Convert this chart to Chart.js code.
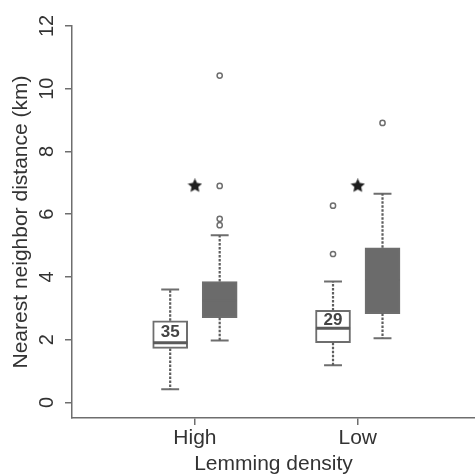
<!DOCTYPE html>
<html>
<head>
<meta charset="utf-8">
<script src="https://cdn.jsdelivr.net/npm/chart.js@4.4.1/dist/chart.umd.min.js"></script>
<style>
  html, body { margin: 0; padding: 0; background: #fff; overflow: hidden; }
  #wrap { width: 475px; height: 475px; position: relative; }
  canvas { display: block; }
</style>
</head>
<body>
<div id="wrap"><canvas id="boxChart"></canvas></div>
<script>
const categories = ['High', 'Low'];
const yTicks = [0, 2, 4, 6, 8, 10, 12];

// one entry per box: High-open, High-filled, Low-open, Low-filled
const boxGroup = [0, 0, 1, 1];
const boxSide = [-1, 1, -1, 1];
const boxFilled = [false, true, false, true];
const whiskerLow = [0.42, 1.97, 1.18, 2.04];
const quart1 = [1.72, 2.70, 1.90, 2.83];
const medians = [1.90, 3.25, 2.36, 3.90];
const quart3 = [2.60, 3.85, 2.93, 4.93];
const whiskerHigh = [3.60, 5.33, 3.85, 6.65];
const outliers = [[], [5.65, 5.85, 6.90, 10.42], [4.73, 6.27], [8.91]];
const sampleSize = ['35', '', '29', ''];
const starValues = [6.9, 6.9];

const GAP = 0.152;   // box offset from category centre
const CAP = 0.055;   // half width of whisker caps
const HALF = 0.105;  // half width of a box
const grey = '#6b6b6b';
const stroke = '#6e6e6e';
const ink = '#333';
const font = '"Liberation Sans", Arial, sans-serif';

const boxX = boxGroup.map((g, i) => g + 1 + boxSide[i] * GAP);

const whiskers = [];
const caps = [];
const openMedians = [];
const filledMedians = [];
const outlierPts = [];
boxX.forEach((x, i) => {
  whiskers.push({x: x, y: quart3[i]}, {x: x, y: whiskerHigh[i]}, {x: x, y: null},
                {x: x, y: quart1[i]}, {x: x, y: whiskerLow[i]}, {x: x, y: null});
  caps.push({x: x - CAP, y: whiskerHigh[i]}, {x: x + CAP, y: whiskerHigh[i]}, {x: x, y: null},
            {x: x - CAP, y: whiskerLow[i]}, {x: x + CAP, y: whiskerLow[i]}, {x: x, y: null});
  const med = boxFilled[i] ? filledMedians : openMedians;
  med.push({x: x - HALF, y: medians[i]}, {x: x + HALF, y: medians[i]}, {x: x, y: null});
  outliers[i].forEach(v => outlierPts.push({x: x, y: v}));
});

// filled five pointed star used as point style for the significance marks
function starImage(size, color) {
  const c = document.createElement('canvas');
  c.width = c.height = size;
  const g = c.getContext('2d');
  g.fillStyle = color;
  g.beginPath();
  for (let k = 0; k < 10; k++) {
    const r = k % 2 ? size * 0.24 : size * 0.5;
    const a = -Math.PI / 2 + k * Math.PI / 5;
    g.lineTo(size / 2 + r * Math.cos(a), size / 2 + r * Math.sin(a));
  }
  g.closePath();
  g.fill();
  return c;
}

const sampleLabelPlugin = {
  id: 'sampleLabels',
  afterDatasetsDraw(chart) {
    const {ctx, scales: {x, y}} = chart;
    ctx.save();
    ctx.font = 'bold 17px "Liberation Sans Narrow", "Liberation Sans", Arial, sans-serif';
    ctx.fillStyle = '#444';
    ctx.textAlign = 'center';
    ctx.textBaseline = 'middle';
    sampleSize.forEach((txt, i) => {
      if (!txt) return;
      ctx.fillText(txt, x.getPixelForValue(boxX[i]), y.getPixelForValue((medians[i] + quart3[i]) / 2) + 1);
    });
    ctx.restore();
  }
};

const config = {
  type: 'scatter',
  data: {
    datasets: [
      {
        type: 'bar',
        data: boxX.map((x, i) => ({x: x, y: [quart1[i], quart3[i]]})),
        backgroundColor: boxFilled.map(f => f ? grey : '#fff'),
        borderColor: stroke,
        borderWidth: 2,
        borderSkipped: false,
        barThickness: 35,
        order: 5
      },
      {
        type: 'line',
        data: whiskers,
        borderColor: '#5e5e5e',
        borderWidth: 2.2,
        borderDash: [2.5, 1.5],
        pointRadius: 0,
        spanGaps: false,
        order: 1
      },
      {
        type: 'line',
        data: caps,
        borderColor: stroke,
        borderWidth: 2,
        pointRadius: 0,
        spanGaps: false,
        order: 1
      },
      {
        type: 'line',
        data: openMedians,
        borderColor: '#5a5a5a',
        borderWidth: 3,
        pointRadius: 0,
        spanGaps: false,
        order: 1
      },
      {
        type: 'line',
        data: filledMedians,
        borderColor: grey,
        borderWidth: 2,
        pointRadius: 0,
        spanGaps: false,
        order: 1
      },
      {
        data: outlierPts,
        pointStyle: 'circle',
        pointRadius: 2.6,
        borderWidth: 1.5,
        borderColor: stroke,
        backgroundColor: '#fff',
        order: 0
      },
      {
        data: categories.map((c, i) => ({x: i + 1, y: starValues[i]})),
        pointStyle: starImage(15, '#1e1e1e'),
        pointRadius: 7,
        order: 0
      }
    ]
  },
  options: {
    responsive: true,
    maintainAspectRatio: false,
    animation: false,
    layout: { autoPadding: false, padding: { top: 26, right: 0, left: 0, bottom: 0 } },
    plugins: {
      legend: { display: false },
      tooltip: { enabled: false }
    },
    scales: {
      x: {
        type: 'linear',
        min: 0.245,
        max: 2.72,
        offset: false,
        afterBuildTicks: axis => { axis.ticks = categories.map((c, i) => ({value: i + 1})); },
        afterFit: scale => { scale.height = 57; },
        ticks: {
          callback: v => categories[v - 1],
          font: { family: font, size: 21 },
          color: ink,
          padding: 1,
          maxRotation: 0
        },
        grid: { drawOnChartArea: false, tickLength: 7, color: stroke, lineWidth: 1.5, offset: false },
        border: { color: stroke, width: 1.5 },
        title: {
          display: true,
          text: 'Lemming density',
          font: { family: font, size: 21, lineHeight: 1 },
          color: ink,
          padding: 0
        }
      },
      y: {
        type: 'linear',
        min: -0.5,
        max: 12,
        afterBuildTicks: axis => { axis.ticks = yTicks.map(v => ({value: v})); },
        afterFit: scale => { scale.width = 72; },
        ticks: {
          font: { family: font, size: 20 },
          color: ink,
          minRotation: 90,
          maxRotation: 90,
          crossAlign: 'center',
          padding: 6
        },
        grid: { drawOnChartArea: false, tickLength: 7, color: stroke, lineWidth: 1.5 },
        border: { color: stroke, width: 1.5 },
        title: {
          display: true,
          text: 'Nearest neighbor distance (km)',
          font: { family: font, size: 21 },
          color: ink,
          padding: { top: 9, bottom: 0 }
        }
      }
    }
  },
  plugins: [sampleLabelPlugin]
};

const boxChart = new Chart(document.getElementById('boxChart'), config);
</script>
</body>
</html>
